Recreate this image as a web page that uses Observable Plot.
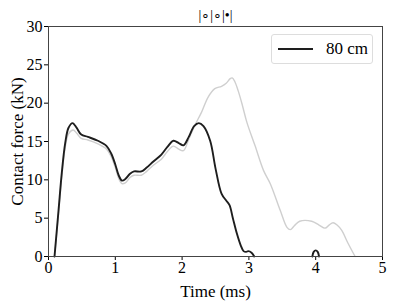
<!DOCTYPE html>
<html>
<head>
<meta charset="utf-8">
<script src="https://cdn.jsdelivr.net/npm/d3@7"></script>
<script src="https://cdn.jsdelivr.net/npm/@observablehq/plot@0.6"></script>
<style>
  body { margin: 0; background: #fff; }
  #wrap { position: relative; width: 395px; height: 304px; font-family: "Liberation Serif", serif; }
  #wrap svg, #wrap svg text { font-family: "Liberation Serif", serif !important; }
  #wrap g[aria-label="x-axis tick label"] text, #wrap g[aria-label="y-axis tick label"] text { font-size: 16px !important; }
  #wrap g[aria-label="x-axis label"] text, #wrap g[aria-label="y-axis label"] text { font-size: 17px !important; }
  #legend { position: absolute; left: 271px; top: 34px; width: 100px; height: 28px; border: 1px solid #ddd; border-radius: 3px; background: #fff; display: flex; align-items: center; }
  #legend span { font-family: "Liberation Serif", serif; font-size: 17px; color: #000; margin-left: 6px; }
</style>
</head>
<body>
<div id="wrap"></div>
<script>
const title = "|∘|∘|•|";
const legendLabel = "80 cm";
const xTicks = [0, 1, 2, 3, 4, 5];
const yTicks = [0, 5, 10, 15, 20, 25, 30];

// Black series (80 cm)
const blackT = [0.09, 0.15, 0.20, 0.25, 0.30, 0.36, 0.42, 0.49, 0.59, 0.74, 0.87, 0.94, 1.00, 1.05, 1.10, 1.15, 1.22, 1.28, 1.39, 1.47, 1.57, 1.69, 1.78, 1.87, 1.95, 2.02, 2.10, 2.18, 2.25, 2.32, 2.42, 2.50, 2.59, 2.66, 2.71, 2.76, 2.82, 2.88, 2.92, 2.96, 2.99, 3.04, 3.08, 3.50, 3.95, 3.97, 4.00, 4.03, 4.05];
const blackV = [0, 6.0, 11, 14.8, 16.8, 17.4, 16.8, 15.9, 15.6, 15.1, 14.4, 13.4, 12, 10.6, 9.9, 10.1, 10.8, 11.1, 11.1, 11.6, 12.4, 13.3, 14.3, 15.1, 14.8, 14.5, 15.6, 17.0, 17.4, 17.0, 15.1, 11.5, 8.2, 7.3, 6.7, 5.0, 3.0, 1.4, 0.7, 0.6, 0.7, 0.5, 0, null, 0, 0.6, 0.8, 0.6, 0];

// Grey series (reference)
const greyT = [0.09, 0.15, 0.20, 0.25, 0.30, 0.37, 0.42, 0.49, 0.59, 0.74, 0.87, 0.94, 1.00, 1.05, 1.10, 1.15, 1.22, 1.28, 1.39, 1.47, 1.57, 1.69, 1.78, 1.87, 1.95, 2.02, 2.10, 2.19, 2.29, 2.39, 2.49, 2.59, 2.66, 2.72, 2.75, 2.79, 2.84, 2.90, 2.97, 3.09, 3.22, 3.32, 3.47, 3.57, 3.62, 3.68, 3.76, 3.94, 4.05, 4.14, 4.20, 4.26, 4.32, 4.39, 4.48, 4.59];
const greyV = [0, 5.6, 10.5, 14.2, 16.0, 16.5, 16.1, 15.4, 15.2, 14.7, 14.0, 13.0, 11.6, 10.2, 9.5, 9.6, 10.3, 10.6, 10.6, 11.1, 11.9, 12.7, 13.7, 14.4, 14.0, 13.8, 15.3, 17.1, 18.8, 20.8, 21.9, 22.2, 22.6, 23.2, 23.3, 22.8, 21.6, 19.8, 17.5, 14.5, 11.2, 9.5, 6.0, 3.8, 3.5, 4.0, 4.6, 4.6, 4.1, 3.7, 4.1, 4.4, 4.1, 3.4, 1.8, 0];

const black = blackT.map((t, i) => ({t, v: blackV[i]}));
const grey = greyT.map((t, i) => ({t, v: greyV[i]}));

const chart = Plot.plot({
  width: 395,
  height: 304,
  marginTop: 26,
  marginBottom: 48,
  marginLeft: 48,
  marginRight: 13,
  style: { fontFamily: "'Liberation Serif', serif", fontSize: "16px", color: "#000", background: "#fff", overflow: "visible" },
  x: { domain: [0, 5], ticks: xTicks, tickFormat: d => String(d), tickSize: 4, tickPadding: 1, label: "Time (ms)", labelAnchor: "center", labelOffset: 40, labelArrow: "none" },
  y: { domain: [0, 30], ticks: yTicks, tickFormat: d => String(d), tickSize: 4, tickPadding: 2, label: "Contact force (kN)", labelAnchor: "center", labelOffset: 38, labelArrow: "none" },
  marks: [
    Plot.line(grey, { x: "t", y: "v", stroke: "#cfcfcf", strokeWidth: 1.4, curve: "catmull-rom" }),
    Plot.line(black, { x: "t", y: "v", stroke: "#1e1e1e", strokeWidth: 1.9, curve: "catmull-rom" }),
    Plot.frame({ stroke: "#444", strokeWidth: 1 }),
    Plot.text([title], { frameAnchor: "top", lineAnchor: "middle", dy: -11, text: d => d, fontSize: 14, fill: "#000" })
  ]
});
document.getElementById("wrap").appendChild(chart);

const legend = document.createElement("div");
legend.id = "legend";
legend.innerHTML = `<svg width="48" height="28" style="margin-left:0"><line x1="6" x2="41" y1="14" y2="14" stroke="#1e1e1e" stroke-width="2"/></svg><span>${legendLabel}</span>`;
document.getElementById("wrap").appendChild(legend);
</script>
</body>
</html>
